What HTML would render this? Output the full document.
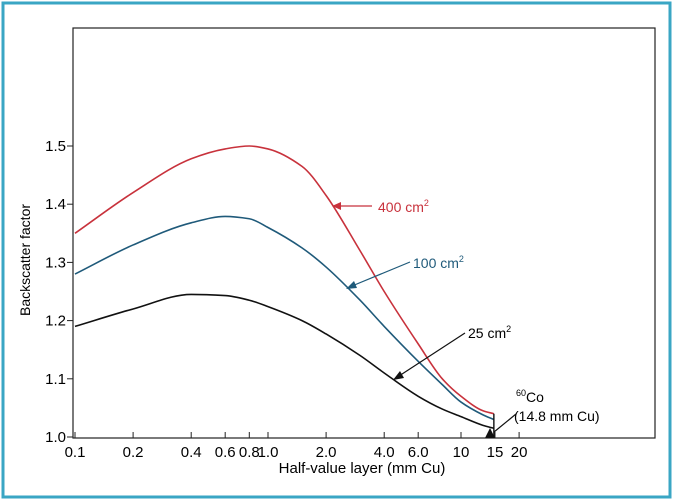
<!DOCTYPE html>
<html><head><meta charset="utf-8"><style>
body{margin:0;background:#fff}
svg{display:block;font-family:"Liberation Sans",sans-serif}
</style></head><body>
<svg id="chart" width="674" height="503">
<rect x="3" y="3" width="667" height="494" fill="#fff" stroke="#3aa6c4" stroke-width="3"/>
<rect x="73" y="28" width="582" height="410" fill="none" stroke="#222" stroke-width="1.2"/>
<g id="axes"></g><g id="series"></g>
<text x="30" y="260" font-size="14" text-anchor="middle" transform="rotate(-90 30 260)">Backscatter factor</text>
<text x="362" y="473" font-size="15" text-anchor="middle">Half-value layer (mm Cu)</text>
<g>
<text x="378" y="212" font-size="14" fill="#c8323c">400 cm<tspan font-size="9" dy="-6">2</tspan></text>
<line x1="372" y1="206" x2="338" y2="206" stroke="#c8323c" stroke-width="1.2"/><polygon points="332,206 341,202 341,210" fill="#c8323c"/></g>
<g>
<text x="413" y="268" font-size="14" fill="#1f5a7a">100 cm<tspan font-size="9" dy="-6">2</tspan></text>
<line x1="410" y1="262" x2="352" y2="286" stroke="#1f5a7a" stroke-width="1.2"/><polygon points="346,289 354,281 357,288" fill="#1f5a7a"/></g>
<g>
<text x="468" y="338" font-size="14">25 cm<tspan font-size="9" dy="-6">2</tspan></text>
<line x1="465" y1="333" x2="399" y2="376" stroke="#111" stroke-width="1.2"/><polygon points="393,380 400,371 404,378" fill="#111"/></g>
<g>
<text x="516" y="402" font-size="14"><tspan font-size="9" dy="-6">60</tspan><tspan dy="6">Co</tspan></text>
<text x="514" y="421" font-size="14">(14.8 mm Cu)</text>
<line x1="516" y1="414" x2="494" y2="432" stroke="#111" stroke-width="1.2"/><polygon points="485,438 495,438 490,428" fill="#111"/></g>
</svg>
<script>
var xTicks=[0.1,0.2,0.4,0.6,0.8,1.0,2.0,4.0,6.0,10,15,20];
var xTickLabels=["0.1","0.2","0.4","0.6","0.8","1.0","2.0","4.0","6.0","10","15","20"];
var yTicks=[1.0,1.1,1.2,1.3,1.4,1.5];
var hvl=[0.1,0.2,0.4,0.6,0.8,1.0,1.5,2.0,3.0,4.0,6.0,8.0,10,13,14.8];
var bsf400=[1.35,1.42,1.478,1.495,1.50,1.495,1.465,1.415,1.32,1.25,1.16,1.10,1.07,1.045,1.04];
var bsf100=[1.28,1.33,1.368,1.379,1.375,1.36,1.325,1.292,1.235,1.19,1.13,1.09,1.06,1.038,1.03];
var bsf25=[1.19,1.22,1.245,1.243,1.235,1.224,1.2,1.177,1.14,1.11,1.07,1.048,1.035,1.02,1.015];
var SVGNS="http://www.w3.org/2000/svg";
function xPos(v){return 75+193*Math.log10(v/0.1);}
function yPos(v){return 437-(v-1.0)*582;}
function mk(t,a,p){var e=document.createElementNS(SVGNS,t);for(var k in a)e.setAttribute(k,String(a[k]));p.appendChild(e);return e;}
var ax=document.getElementById('axes');
xTicks.forEach(function(v,i){var x=xPos(v);
 var t=mk('line',{x1:x,x2:x,y1:438,y2:432,stroke:'#222'},ax);
 
 
 var l=mk('text',{x:x,y:457,'font-size':15,'text-anchor':'middle'},ax);l.textContent=xTickLabels[i];
 
 });
yTicks.forEach(function(v){var y=yPos(v);
 var t=mk('line',{x1:73,x2:67,y1:y,y2:y,stroke:'#222'},ax);
 
 
 var l=mk('text',{x:66,y:y+5,'font-size':15,'text-anchor':'end'},ax);l.textContent=v.toFixed(1);
 
 });
function curveD(xs,ys){
 var px=xs.map(xPos),py=ys.map(yPos),n=px.length,d=[],m=[];
 for(var i=0;i<n-1;i++)d.push((py[i+1]-py[i])/(px[i+1]-px[i]));
 m[0]=d[0];m[n-1]=d[n-2];
 for(i=1;i<n-1;i++){m[i]=(d[i-1]*d[i]<=0)?0:(2/(1/d[i-1]+1/d[i]));}
 var s='M'+px[0]+','+py[0];
 for(i=0;i<n-1;i++){var h=(px[i+1]-px[i])/3;
  s+=' C'+(px[i]+h)+','+(py[i]+m[i]*h)+' '+(px[i+1]-h)+','+(py[i+1]-m[i+1]*h)+' '+px[i+1]+','+py[i+1];}
 return s;}
var sg=document.getElementById('series');
[[bsf400,'#c8323c','curve-400cm2'],[bsf100,'#1f5a7a','curve-100cm2'],[bsf25,'#111','curve-25cm2']].forEach(function(s){
 var e=mk('path',{d:curveD(hvl,s[0]),fill:'none',stroke:s[1],'stroke-width':1.6},sg);
 
 });
var xe=xPos(hvl[hvl.length-1]);
var vl=mk('line',{x1:xe,x2:xe,y1:yPos(bsf400[bsf400.length-1]),y2:438,stroke:'#111','stroke-width':1.4},sg);


</script>
</body></html>
